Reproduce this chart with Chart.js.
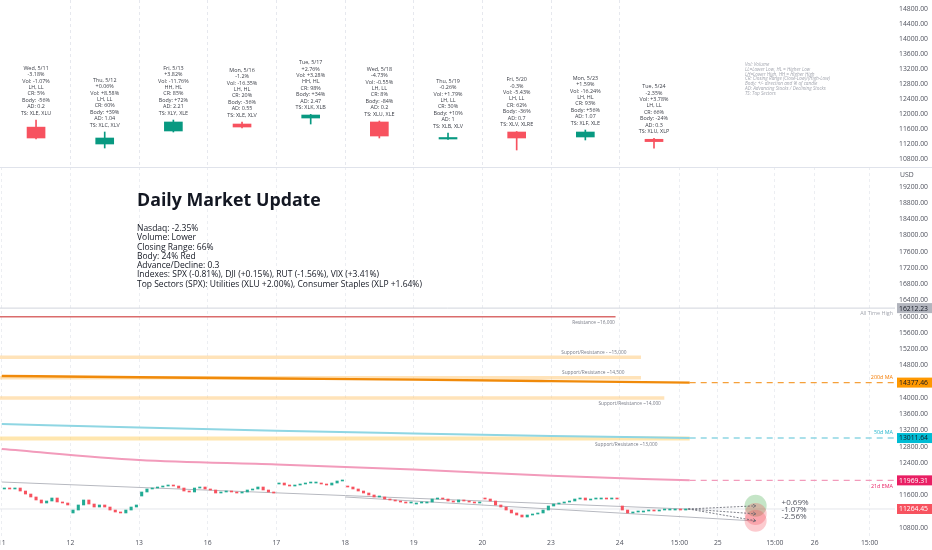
<!DOCTYPE html>
<html>
<head>
<meta charset="utf-8">
<script src="https://cdn.jsdelivr.net/npm/chart.js@4.4.1/dist/chart.umd.min.js"></script>
<style>
  html, body { margin: 0; padding: 0; background: #fff; }
  body { width: 932px; height: 550px; position: relative; overflow: hidden; }
  #topPane { position: absolute; left: 0; top: 0; width: 932px; height: 167px; }
  #bottomPane { position: absolute; left: 0; top: 167px; width: 932px; height: 383px; }
  #divider { position: absolute; left: 0; top: 167px; width: 932px; height: 1px; background: #e0e3eb; }
  #summary { position: absolute; left: 137px; top: 188px; font-family: "Open Sans", sans-serif; color: #131722; white-space: nowrap; }
  #summary h1 { margin: 0; font-size: 17.8px; font-weight: 700; line-height: 22px; }
  #summary div { margin-top: 13px; font-size: 8.5px; line-height: 9.3px; }
</style>
</head>
<body>
<canvas id="topPane" width="932" height="167"></canvas>
<canvas id="bottomPane" width="932" height="383"></canvas>
<div id="divider"></div>
<div id="summary">
  <h1>Daily Market Update</h1>
  <div>
    Nasdaq: -2.35%<br>
    Volume: Lower<br>
    Closing Range: 66%<br>
    Body: 24% Red<br>
    Advance/Decline: 0.3<br>
    Indexes: SPX (-0.81%), DJI (+0.15%), RUT (-1.56%), VIX (+3.41%)<br>
    Top Sectors (SPX): Utilities (XLU +2.00%), Consumer Staples (XLP +1.64%)
  </div>
</div>
<script>
// ---- daily candles (top pane)
const dayLabels = ['5/11', '5/12', '5/13', '5/16', '5/17', '5/18', '5/19', '5/20', '5/23', '5/24'];
const dayOpen  = [11650, 11200, 11547, 11733, 11893, 11787, 11333, 11520, 11387, 11326];
const dayHigh  = [11840, 11520, 11840, 11787, 11990, 11813, 11493, 11533, 11573, 11350];
const dayLow   = [11333, 11093, 11520, 11627, 11733, 11360, 11320, 11040, 11307, 11090];
const dayClose = [11360, 11360, 11787, 11653, 11973, 11413, 11373, 11360, 11520, 11264];

const dayNotes = [
    ['Wed, 5/11', '-3.18%', 'Vol: -1.07%', 'LH, LL', 'CR: 5%', 'Body: -56%', 'AD: 0.2', 'TS: XLE, XLU'],
    ['Thu, 5/12', '+0.06%', 'Vol: +8.58%', 'LH, LL', 'CR: 60%', 'Body: +39%', 'AD: 1.04', 'TS: XLC, XLV'],
    ['Fri, 5/13', '+3.82%', 'Vol: -11.76%', 'HH, HL', 'CR: 85%', 'Body: +72%', 'AD: 2.21', 'TS: XLY, XLE'],
    ['Mon, 5/16', '-1.2%', 'Vol: -16.35%', 'LH, HL', 'CR: 20%', 'Body: -36%', 'AD: 0.55', 'TS: XLE, XLV'],
    ['Tue, 5/17', '+2.76%', 'Vol: +3.28%', 'HH, HL', 'CR: 98%', 'Body: +34%', 'AD: 2.47', 'TS: XLK, XLB'],
    ['Wed, 5/18', '-4.73%', 'Vol: -0.55%', 'LH, LL', 'CR: 8%', 'Body: -84%', 'AD: 0.2', 'TS: XLU, XLE'],
    ['Thu, 5/19', '-0.26%', 'Vol: +1.79%', 'LH, LL', 'CR: 30%', 'Body: +10%', 'AD: 1', 'TS: XLB, XLV'],
    ['Fri, 5/20', '-0.3%', 'Vol: -5.43%', 'LH, LL', 'CR: 62%', 'Body: -36%', 'AD: 0.7', 'TS: XLV, XLRE'],
    ['Mon, 5/23', '+1.59%', 'Vol: -16.24%', 'LH, HL', 'CR: 93%', 'Body: +56%', 'AD: 1.07', 'TS: XLF, XLE'],
    ['Tue, 5/24', '-2.35%', 'Vol: +3.78%', 'LH, LL', 'CR: 66%', 'Body: -24%', 'AD: 0.3', 'TS: XLU, XLP']
];

const legendNotes = [
    'Vol: Volume',
    'LL=Lower Low, HL = Higher Low',
    'LH=Lower High, HH = Higher High',
    'CR: Closing Range (Close-Low)/(High-Low)',
    'Body: +/- direction and % of candle',
    'AD: Advancing Stocks / Declining Stocks',
    'TS: Top Sectors'
];

const topTicks = [10800, 11200, 11600, 12000, 12400, 12800, 13200, 13600, 14000, 14400, 14800];

// ---- intraday (bottom pane): open, then 13 half-hour closes per day
const d11 = [11757, 11781, 11757, 11781, 11707, 11633, 11560, 11486, 11412, 11461, 11535, 11437, 11412, 11363];
const d12 = [11166, 11239, 11363, 11486, 11387, 11313, 11363, 11313, 11239, 11190, 11166, 11239, 11313, 11363];
const d13 = [11584, 11683, 11757, 11781, 11806, 11830, 11855, 11830, 11781, 11707, 11683, 11781, 11806, 11757];
const d16 = [11757, 11732, 11658, 11683, 11707, 11683, 11658, 11683, 11732, 11757, 11806, 11732, 11683, 11658];
const d17 = [11880, 11904, 11855, 11830, 11855, 11880, 11904, 11904, 11904, 11880, 11855, 11904, 11954, 11978];
const d18 = [11830, 11806, 11757, 11707, 11658, 11609, 11560, 11560, 11510, 11486, 11461, 11436, 11412, 11412];
const d19 = [11387, 11412, 11412, 11436, 11510, 11535, 11510, 11461, 11436, 11486, 11461, 11436, 11412, 11436];
const d20 = [11535, 11510, 11461, 11363, 11313, 11239, 11166, 11116, 11067, 11116, 11141, 11166, 11239, 11338];
const d23 = [11338, 11387, 11412, 11436, 11461, 11510, 11535, 11486, 11510, 11510, 11535, 11510, 11535, 11510];
const d24 = [11338, 11239, 11166, 11190, 11190, 11215, 11239, 11215, 11239, 11239, 11239, 11264, 11239, 11264.45];
const intradayDays = [d11, d12, d13, d16, d17, d18, d19, d20, d23, d24];

const bottomTicks = [10800, 11200, 11600, 12000, 12400, 12800, 13200, 13600, 14000, 14400, 14800,
    15200, 15600, 16000, 16400, 16800, 17200, 17600, 18000, 18400, 18800, 19200];
const timeTickPos  = [0, 1, 2, 3, 4, 5, 6, 7, 8, 9, 9.87, 10.43, 11.26, 11.84, 12.64];
const timeTickText = ['11', '12', '13', '16', '17', '18', '19', '20', '23', '24', '15:00', '25', '15:00', '26', '15:00'];

// levels
const levelValues = [16000, 15000, 14500, 14000, 13000];
const levelEnds   = [8.94, 9.31, 9.31, 9.65, 10.02];
const levelNames  = ['Resistance ~16,000', 'Support/Resistance - ~15,000', 'Support/Resistance ~14,500',
    'Support/Resistance ~14,000', 'Support/Resistance ~13,000'];
const allTimeHigh = 16212.23;

// moving averages
const maX   = [0, 2, 4, 6, 8, 10.02];
const ma200 = [14540, 14510, 14480, 14450, 14415, 14377.46];
const ma50  = [13358, 13270, 13190, 13125, 13065, 13011.64];
const ema21 = [12741, 12470, 12360, 12235, 12080, 11969.31];

// trend lines
const trendAX = [0, 10.02];
const trendA  = [11929, 11260];
const trendBX = [5.0, 10.98];
const trendB  = [11560, 10968];

// projection
const lastClose = 11264.45;
const projPct = [0.69, -1.07, -2.56];
const projX = 10.98;

const X_MIN = -0.025, X_MAX = 13.01;
const RED = '#f7525f', GREEN = '#089981';

Chart.defaults.font.family = '"Open Sans", sans-serif';
Chart.defaults.color = '#50535e';

// no extra padding for edge labels: panes must line up exactly
function noPadX(s, h) { s.height = h; s.paddingLeft = 0; s.paddingRight = 0; }
function noPadY(s) { s.width = 37; s.paddingTop = 0; s.paddingBottom = 0; }

// ---- top pane
const topOverlay = {
    id: 'topOverlay',
    afterDatasetsDraw(chart) {
        const { ctx, scales: { x, y } } = chart;
        ctx.save();
        ctx.font = '5.4px "Open Sans"';
        ctx.fillStyle = '#3a3d46';
        ctx.textAlign = 'center';
        ctx.textBaseline = 'middle';
        dayNotes.forEach((lines, i) => {
            const cx = x.getPixelForValue(i + 0.5);
            const last = y.getPixelForValue(dayHigh[i]) - 7;
            lines.forEach((t, k) => {
                ctx.fillText(t, cx, last - (lines.length - 1 - k) * 6.4);
            });
        });
        ctx.font = 'italic 4.7px "Open Sans"';
        ctx.fillStyle = '#a3a6af';
        ctx.textAlign = 'left';
        legendNotes.forEach((t, k) => ctx.fillText(t, 745, 65 + k * 4.7));
        ctx.restore();
    }
};

new Chart(document.getElementById('topPane'), {
    type: 'bar',
    data: {
        datasets: [{
            data: dayLabels.map((d, i) => ({ x: i + 0.5, y: [dayLow[i], dayHigh[i]] })),
            backgroundColor: dayLabels.map((d, i) => dayClose[i] >= dayOpen[i] ? GREEN : RED),
            barThickness: 1,
            grouped: false,
            order: 2
        }, {
            data: dayLabels.map((d, i) => ({ x: i + 0.5, y: [dayOpen[i], dayClose[i]] })),
            backgroundColor: dayLabels.map((d, i) => dayClose[i] >= dayOpen[i] ? GREEN : RED),
            barThickness: 18,
            minBarLength: 1.5,
            grouped: false,
            order: 1
        }]
    },
    options: {
        responsive: false,
        animation: false,
        layout: { padding: 0 },
        plugins: { legend: { display: false }, tooltip: { enabled: false } },
        scales: {
            x: {
                type: 'linear', min: X_MIN, max: X_MAX, offset: false,
                grid: { offset: false, color: '#e6e8ee', drawTicks: false },
                border: { display: false, dash: [3, 3] },
                ticks: { display: false },
                afterBuildTicks: (s) => { s.ticks = [1, 2, 3, 4, 5, 6, 7, 8, 9].map(v => ({ value: v })); },
                afterFit: (s) => noPadX(s, 0)
            },
            y: {
                position: 'right', min: 10586.7, max: 15040,
                grid: { display: false, drawTicks: false },
                border: { display: false },
                ticks: { padding: 4, font: { size: 6.8 }, callback: (v) => v.toFixed(2) },
                afterBuildTicks: (s) => { s.ticks = topTicks.map(v => ({ value: v })); },
                afterFit: noPadY
            }
        }
    },
    plugins: [topOverlay]
});

// ---- bottom pane
const intraBars = [];
const intraColors = [];
intradayDays.forEach((day, i) => {
    for (let k = 0; k < day.length - 1; k++) {
        intraBars.push({ x: i + (k + 0.5) / (day.length - 1), y: [day[k], day[k + 1]] });
        intraColors.push(day[k + 1] >= day[k] ? '#22ab94' : RED);
    }
});

function lineSet(xs, ys, color, width, dash, order) {
    return {
        type: 'line',
        data: xs.map((v, i) => ({ x: v, y: ys[i] })),
        borderColor: color,
        borderWidth: width,
        borderDash: dash || [],
        pointRadius: 0,
        tension: 0.3,
        cubicInterpolationMode: 'monotone',
        order: order
    };
}

const bandColors = ['rgba(214,92,92,0.9)', 'rgba(255,204,128,0.55)', 'rgba(255,204,128,0.55)',
    'rgba(255,204,128,0.55)', 'rgba(255,214,120,0.6)'];
const bandWidths = [1.3, 3.5, 3.5, 3.5, 4];

const bottomSets = [
    { type: 'bar', data: intraBars, backgroundColor: intraColors, barThickness: 2.4, minBarLength: 1, grouped: false, order: 0 },
    lineSet([X_MIN, X_MAX], [allTimeHigh, allTimeHigh], '#d1d4dc', 1, null, 9),
    lineSet([X_MIN, X_MAX], [lastClose, lastClose], '#e4e6eb', 1, null, 9),
    lineSet(trendAX, trendA, '#b7b9c0', 1, null, 3),
    lineSet(trendBX, trendB, '#b7b9c0', 1, null, 3),
    lineSet(maX, ma200, '#f08a0a', 2.4, null, 4),
    lineSet([10.02, X_MAX], [ma200[5], ma200[5]], '#f5a03a', 1.4, [6, 5], 4),
    lineSet(maX, ma50, '#8fd6e3', 2, null, 4),
    lineSet([10.02, X_MAX], [ma50[5], ma50[5]], '#8fd6e3', 1.4, [6, 5], 4),
    lineSet(maX, ema21, '#f29bbb', 2, null, 4),
    lineSet([10.02, X_MAX], [ema21[5], ema21[5]], '#f29bbb', 1.4, [6, 5], 4)
];
levelValues.forEach((v, i) => {
    bottomSets.push(lineSet([X_MIN, levelEnds[i]], [v, v], bandColors[i], bandWidths[i], null, 6));
});

const bottomOverlay = {
    id: 'bottomOverlay',
    afterDatasetsDraw(chart) {
        const { ctx, scales: { x, y } } = chart;
        ctx.save();
        ctx.textBaseline = 'middle';

        // level captions
        const spots = [[8.93, 6], [9.1, -5], [9.07, -5], [9.6, 6], [9.55, 6]];
        ctx.font = '4.8px "Open Sans"';
        ctx.fillStyle = '#787b86';
        ctx.textAlign = 'right';
        levelNames.forEach((t, i) => {
            ctx.fillText(t, x.getPixelForValue(spots[i][0]), y.getPixelForValue(levelValues[i]) + spots[i][1]);
        });

        // line captions at the right edge
        const r = chart.chartArea.right - 2;
        ctx.font = '5.4px "Open Sans"';
        [['All Time High', allTimeHigh, 5, '#a3a6af'], ['200d MA', ma200[5], -5, '#f57c00'],
         ['50d MA', ma50[5], -6, '#22b5cc'], ['21d EMA', ema21[5], 6, '#e91e63']].forEach(([t, v, dy, c]) => {
            ctx.fillStyle = c;
            ctx.fillText(t, r, y.getPixelForValue(v) + dy);
        });

        // projection
        const x0 = x.getPixelForValue(10.0), y0 = y.getPixelForValue(lastClose);
        const x1 = x.getPixelForValue(projX);
        projPct.forEach((p) => {
            const y1 = y.getPixelForValue(lastClose * (1 + p / 100));
            ctx.beginPath();
            ctx.arc(x1, y1, 11, 0, Math.PI * 2);
            ctx.fillStyle = p >= 0 ? 'rgba(76,175,80,0.32)' : 'rgba(242,54,69,0.26)';
            ctx.fill();
        });
        ctx.strokeStyle = '#5d606b';
        ctx.lineWidth = 0.8;
        projPct.forEach((p) => {
            const y1 = y.getPixelForValue(lastClose * (1 + p / 100));
            ctx.setLineDash([2, 1.5]);
            ctx.beginPath();
            ctx.moveTo(x0, y0);
            ctx.lineTo(x1, y1);
            ctx.stroke();
            ctx.setLineDash([]);
            const a = Math.atan2(y1 - y0, x1 - x0);
            ctx.beginPath();
            ctx.moveTo(x1 - 3 * Math.cos(a - 0.6), y1 - 3 * Math.sin(a - 0.6));
            ctx.lineTo(x1, y1);
            ctx.lineTo(x1 - 3 * Math.cos(a + 0.6), y1 - 3 * Math.sin(a + 0.6));
            ctx.stroke();
        });
        ctx.font = '8px "Open Sans"';
        ctx.fillStyle = '#50535e';
        ctx.textAlign = 'left';
        const ly = y.getPixelForValue(lastClose * (1 + projPct[0] / 100)) - 3;
        projPct.forEach((p, i) => {
            ctx.fillText((p > 0 ? '+' : '') + p.toFixed(2) + '%', x1 + 26, ly + i * 6.8);
        });
        ctx.restore();
    },
    afterDraw(chart) {
        const { ctx, scales: { y } } = chart;
        const left = chart.chartArea.right + 2;
        ctx.save();
        ctx.font = '6.8px "Open Sans"';
        ctx.textBaseline = 'middle';
        ctx.textAlign = 'left';
        ctx.fillStyle = '#50535e';
        ctx.fillText('USD', left + 3, chart.chartArea.top + 8);
        const tags = [[allTimeHigh, '#b2b5be', '#131722'], [ma200[5], '#ff9800', '#131722'],
            [ma50[5], '#00bcd4', '#131722'], [ema21[5], '#e91e63', '#ffffff'], [lastClose, '#f7525f', '#ffffff']];
        tags.forEach(([v, bg, fg]) => {
            const py = y.getPixelForValue(v);
            ctx.fillStyle = bg;
            ctx.fillRect(left, py - 5, chart.width - left, 10);
            ctx.fillStyle = fg;
            ctx.fillText(v.toFixed(2), left + 2, py + 0.5);
        });
        ctx.restore();
    }
};

new Chart(document.getElementById('bottomPane'), {
    type: 'bar',
    data: { datasets: bottomSets },
    options: {
        responsive: false,
        animation: false,
        layout: { padding: 0 },
        plugins: { legend: { display: false }, tooltip: { enabled: false } },
        scales: {
            x: {
                type: 'linear', min: X_MIN, max: X_MAX, offset: false,
                grid: { offset: false, color: '#eceef2', drawTicks: false },
                border: { display: false, dash: [3, 3] },
                ticks: {
                    autoSkip: false, maxRotation: 0, padding: 3, font: { size: 6.8 },
                    callback: (v, i) => timeTickText[i]
                },
                afterBuildTicks: (s) => { s.ticks = timeTickPos.map(v => ({ value: v })); },
                afterFit: (s) => noPadX(s, 14)
            },
            y: {
                position: 'right', min: 10599, max: 19688,
                grid: { display: false, drawTicks: false },
                border: { display: false },
                ticks: { padding: 4, font: { size: 6.8 }, callback: (v) => v.toFixed(2) },
                afterBuildTicks: (s) => { s.ticks = bottomTicks.map(v => ({ value: v })); },
                afterFit: noPadY
            }
        }
    },
    plugins: [bottomOverlay]
});
</script>
</body>
</html>
